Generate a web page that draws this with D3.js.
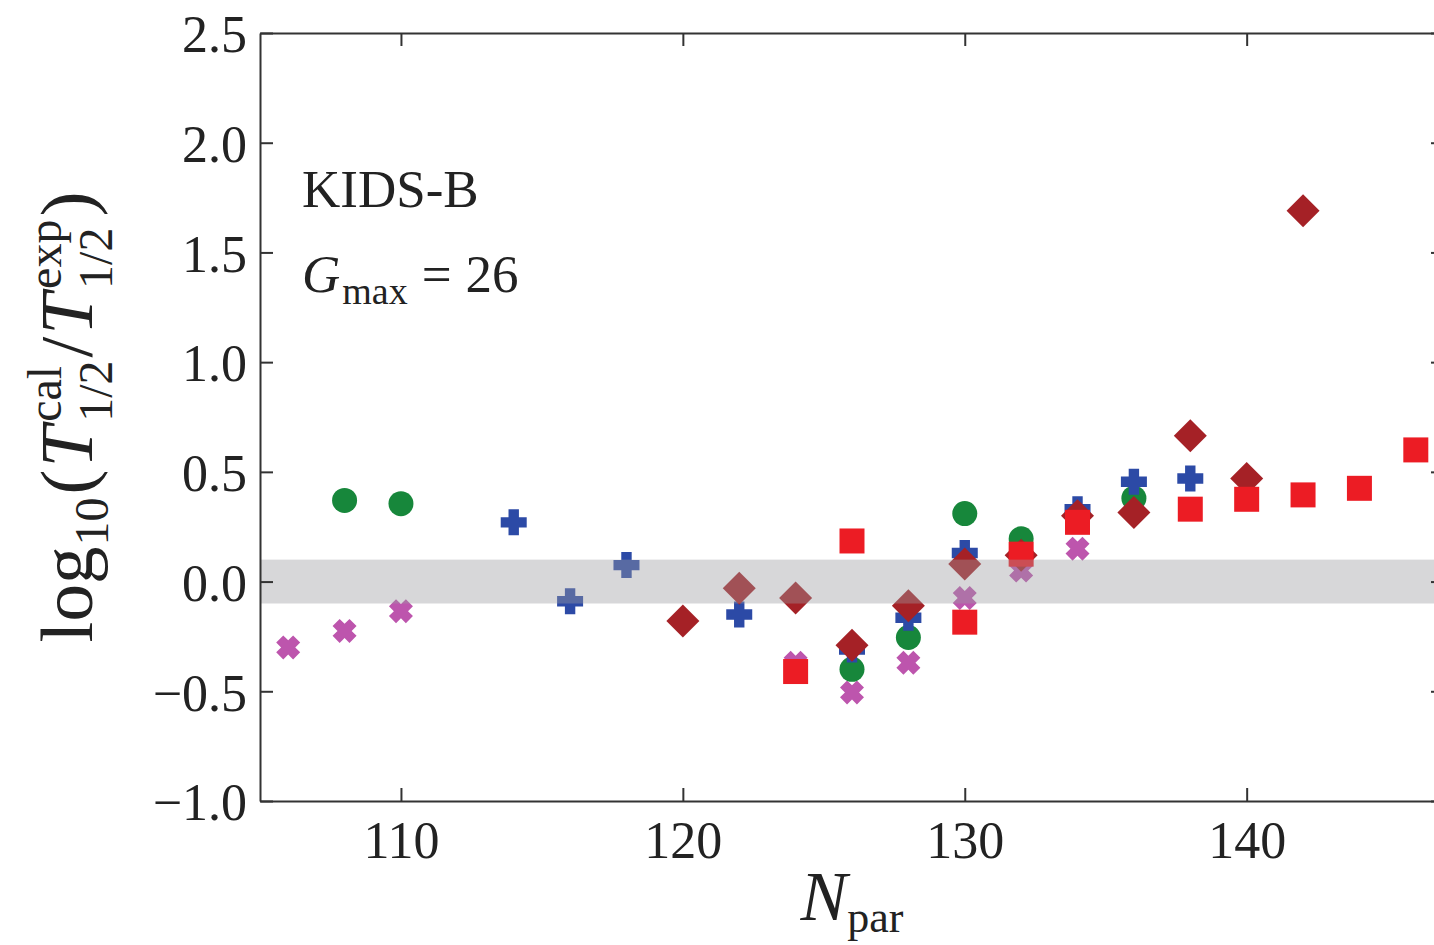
<!DOCTYPE html>
<html><head><meta charset="utf-8">
<script src="https://cdn.jsdelivr.net/npm/d3@7"></script>
<style>
html,body{margin:0;padding:0;background:#fff;overflow:hidden}
text{font-family:"Liberation Serif","Times New Roman",serif;fill:#222}
</style></head>
<body><svg id="c" width="1434" height="945"></svg>
<script>
// ---- data ----
const xTicks = [110, 120, 130, 140];
const yTicks = [-1.0, -0.5, 0.0, 0.5, 1.0, 1.5, 2.0, 2.5];
const yTickLabels = ["\u22121.0", "\u22120.5", "0.0", "0.5", "1.0", "1.5", "2.0", "2.5"];

const magentaN = [106, 108, 110, 124, 126, 128, 130, 132, 134];
const magentaV = [-0.30, -0.225, -0.135, -0.37, -0.505, -0.37, -0.075, 0.05, 0.15];

const greenN = [108, 110, 126, 128, 130, 132, 136];
const greenV = [0.37, 0.355, -0.40, -0.255, 0.31, 0.195, 0.38];

const blueN = [114, 116, 118, 122, 126, 128, 130, 134, 136, 138];
const blueV = [0.27, -0.09, 0.075, -0.15, -0.31, -0.165, 0.13, 0.33, 0.455, 0.47];

const diamondN = [120, 122, 124, 126, 128, 130, 132, 134, 136, 138, 140, 142];
const diamondV = [-0.18, -0.03, -0.075, -0.29, -0.11, 0.08, 0.12, 0.30, 0.315, 0.665, 0.47, 1.69];

const squareN = [124, 126, 130, 132, 134, 138, 140, 142, 144, 146];
const squareV = [-0.41, 0.185, -0.185, 0.125, 0.27, 0.33, 0.375, 0.395, 0.425, 0.60];

const bandRange = [-0.1, 0.1];

// ---- layout ----
const L = 260, T = 33, R = 1444, B = 801;
const svg = d3.select("#c");
const x = d3.scaleLinear().domain([105, 147]).range([L, R]);
const y = d3.scaleLinear().domain([-1.0, 2.5]).range([B, T]);

// marker shapes (custom symbol types; size = half extent)
function poly(c, p){ c.moveTo(p[0][0],p[0][1]); p.slice(1).forEach(q=>c.lineTo(q[0],q[1])); c.closePath(); }
function plusPts(s, a){ return [[-a,-s],[a,-s],[a,-a],[s,-a],[s,a],[a,a],[a,s],[-a,s],[-a,a],[-s,a],[-s,-a],[-a,-a]]; }
const sq = {draw(c, s){ c.rect(-s, -s, 2*s, 2*s); }};
const dia = {draw(c, s){ poly(c, [[0,-s],[s,0],[0,s],[-s,0]]); }};
const circ = {draw(c, s){ c.moveTo(s,0); c.arc(0,0,s,0,2*Math.PI); }};
const plus = {draw(c, s){ poly(c, plusPts(s, s*0.4)); }};
const xfill = {draw(c, s){
  const a = 5, h = s*Math.SQRT2 - a, k = Math.SQRT1_2;
  poly(c, plusPts(h, a).map(q => [(q[0]-q[1])*k, (q[0]+q[1])*k])); }};
function symPath(type, s){ const p = d3.path(); type.draw(p, s); return p.toString(); }

const series = [
  {n: magentaN, v: magentaV, type: xfill, s: 12, color: "#bd55ad"},
  {n: greenN, v: greenV, type: circ, s: 12.5, color: "#17873b"},
  {n: blueN, v: blueV, type: plus, s: 13, color: "#2c4aa6"},
  {n: diamondN, v: diamondV, type: dia, s: 16.5, color: "#a52126"},
  {n: squareN, v: squareV, type: sq, s: 12.5, color: "#ec1c24"}
];

svg.append("clipPath").attr("id","pc").append("rect")
  .attr("x", L).attr("y", T).attr("width", R-L).attr("height", B-T);
const plot = svg.append("g").attr("clip-path","url(#pc)");

series.forEach(sr => {
  plot.append("g").selectAll("path").data(sr.n.map((n,i)=>({n, v: sr.v[i]})))
    .join("path")
    .attr("d", symPath(sr.type, sr.s))
    .attr("transform", d => `translate(${x(d.n)},${y(d.v)})`)
    .attr("fill", sr.color);
});

// translucent band on top
plot.append("rect")
  .attr("x", L).attr("width", R-L)
  .attr("y", y(bandRange[1])).attr("height", y(bandRange[0]) - y(bandRange[1]))
  .attr("fill", "#9c9ca0").attr("fill-opacity", 0.4);

// axes (ticks inward on all sides)
const tickLen = 13;
const axB = svg.append("g").attr("transform", `translate(0,${B})`)
  .call(d3.axisBottom(x).tickValues(xTicks).tickSizeInner(-tickLen).tickSizeOuter(0).tickPadding(20).tickFormat(d3.format("d")));
const axT = svg.append("g").attr("transform", `translate(0,${T})`)
  .call(d3.axisTop(x).tickValues(xTicks).tickSizeInner(-tickLen).tickSizeOuter(0).tickFormat(""));
const axL = svg.append("g").attr("transform", `translate(${L},0)`)
  .call(d3.axisLeft(y).tickValues(yTicks).tickSizeInner(-tickLen).tickSizeOuter(0).tickPadding(13)
    .tickFormat((d,i) => yTickLabels[i]));
const axR = svg.append("g").attr("transform", `translate(${R},0)`)
  .call(d3.axisRight(y).tickValues(yTicks).tickSizeInner(-tickLen).tickSizeOuter(0).tickFormat(""));
[axB, axT, axL, axR].forEach(a => {
  a.select(".domain").attr("stroke", "#333").attr("stroke-width", 2);
  a.selectAll(".tick line").attr("stroke", "#333").attr("stroke-width", 2);
  a.selectAll("text").attr("font-family", null).attr("font-size", null).style("font-size", "52px").attr("fill", "#222");
});
axL.selectAll(".tick text").attr("dy", "0.36em");
axB.selectAll(".tick text").attr("dy", "0.71em");

// annotations
svg.append("text").attr("x", 302).attr("y", 207).style("font-size", "53px").text("KIDS-B");
const g = svg.append("text").attr("x", 302).attr("y", 292).style("font-size", "53px");
g.append("tspan").style("font-style", "italic").text("G");
g.append("tspan").attr("dy", 12).attr("dx", 2).style("font-size", "38px").text("max");
g.append("tspan").attr("dy", -12).attr("dx", 14).text("=");
g.append("tspan").attr("dx", 14).text("26");

// x label
const xl = svg.append("text").attr("x", 852).attr("y", 920).attr("text-anchor", "middle").style("font-size", "70px");
xl.append("tspan").style("font-style", "italic").text("N");
xl.append("tspan").attr("dy", 12).style("font-size", "44px").text("par");

// y label built from measured pieces
const yl = svg.append("g");
const MAIN = 75, SCR = 48;
let cx = 0;
function piece(txt, size, dy, italic){
  const t = yl.append("text").attr("x", cx).attr("y", dy).style("font-size", size+"px").text(txt);
  if (italic) t.style("font-style", "italic");
  return t;
}
function adv(t){ return t.node().getComputedTextLength(); }
let t;
t = piece("log", MAIN, 0); cx += adv(t) + 1;
t = piece("10", SCR, 16); cx += adv(t) + 3;
t = piece("(", MAIN, 0); cx += adv(t) + 2;
t = piece("T", MAIN, 0, true); cx += adv(t) + 4;
let a1 = piece("cal", SCR, -31), b1 = piece("1/2", SCR, 20);
cx += Math.max(adv(a1), adv(b1)) + 3;
t = piece("/", MAIN, 0); cx += adv(t) + 2;
t = piece("T", MAIN, 0, true); cx += adv(t) + 4;
a1 = piece("exp", SCR, -31); b1 = piece("1/2", SCR, 20);
cx += Math.max(adv(a1), adv(b1)) + 3;
t = piece(")", MAIN, 0); cx += adv(t);
yl.attr("transform", `translate(92,${(T+B)/2}) rotate(-90) translate(${-cx/2},0)`);
</script></body></html>
